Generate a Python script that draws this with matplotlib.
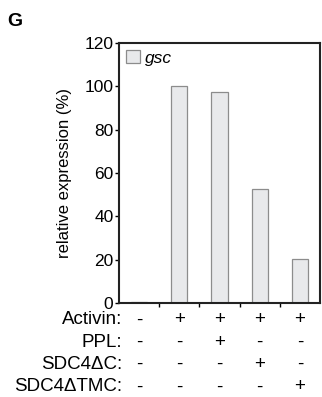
import matplotlib.pyplot as plt
import numpy as np

plt.rcParams['font.family'] = ['Liberation Sans', 'DejaVu Sans']

# data
values = [0.5, 100, 97.5, 52.5, 20.5]
row_labels = ['Activin:', 'PPL:', 'SDC4\u0394C:', 'SDC4\u0394TMC:']
row_signs = [
	['-', '+', '+', '+', '+'],
	['-', '-', '+', '-', '-'],
	['-', '-', '-', '+', '-'],
	['-', '-', '-', '-', '+'],
]
yticks = [0, 20, 40, 60, 80, 100, 120]

fs = 12.5
fs_table = 13.5

fig = plt.figure(figsize=(3.22, 3.97), dpi=100)
ax = fig.add_axes([119 / 322, 1 - 303 / 397, 201 / 322, 260 / 397])

x = np.arange(len(values))
ax.bar(x, values, width=0.4, color='#e8e9eb', edgecolor='#8c8c8c', linewidth=0.9, label='gsc')

ax.set_xlim(-0.5, len(values) - 0.5)
ax.set_ylim(0, 120)
ax.set_yticks(yticks)
ax.tick_params(axis='y', labelsize=fs, length=3, width=1.0, pad=1)
ax.set_xticks(x[:-1] + 0.5)
ax.set_xticklabels([])
ax.tick_params(axis='x', length=3, width=1.0)
for s in ax.spines.values():
	s.set_linewidth(1.5)
	s.set_color('#222222')

ax.set_ylabel('relative expression (%)', fontsize=12, labelpad=9)

leg = ax.legend(loc='upper left', frameon=False, fontsize=fs, handlelength=0.8,
	handleheight=0.8, handletextpad=0.3, borderaxespad=0.2, borderpad=0.2)
for t in leg.get_texts():
	t.set_fontstyle('italic')

# condition table below axis
for r, (lab, signs) in enumerate(zip(row_labels, row_signs)):
	ypos = 320 + r * 22.3
	fig.text(122 / 322, 1 - ypos / 397, lab, ha='right', va='center', fontsize=fs_table)
	for i, s in enumerate(signs):
		xd = ax.transData.transform((i, 0))[0]
		fig.text(xd / fig.dpi / fig.get_figwidth(), 1 - ypos / 397, s,
			ha='center', va='center', fontsize=fs_table)

fig.text(7 / 322, 1 - 21 / 397, 'G', fontsize=14, fontweight='bold', va='center')

fig.savefig('out.png', dpi=100)
